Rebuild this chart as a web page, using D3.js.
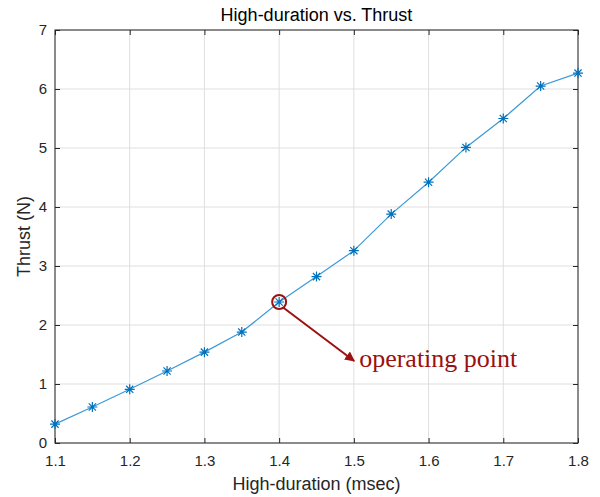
<!DOCTYPE html>
<html>
<head>
<meta charset="utf-8">
<script src="https://cdn.jsdelivr.net/npm/d3@7"></script>
<style>
  body { margin: 0; background: #fff; }
  svg { display: block; }
</style>
</head>
<body>
<div id="chart"></div>
<script>
var width = 600;
var height = 497;

// data
var duration = [1.1, 1.15, 1.2, 1.25, 1.3, 1.35, 1.4, 1.45, 1.5, 1.55, 1.6, 1.65, 1.7, 1.75, 1.8];
var thrust   = [0.32, 0.61, 0.91, 1.22, 1.54, 1.88, 2.39, 2.82, 3.26, 3.88, 4.42, 5.01, 5.50, 6.05, 6.27];
var xTicks = [1.1, 1.2, 1.3, 1.4, 1.5, 1.6, 1.7, 1.8];
var yTicks = [0, 1, 2, 3, 4, 5, 6, 7];
var opPoint = { x: 1.4, y: 2.39 };
var opLabel = "operating point";

var margin = { top: 30, right: 22, bottom: 54, left: 55 };
var w = width - margin.left - margin.right;
var h = height - margin.top - margin.bottom;

var svg = d3.select("#chart").append("svg")
  .attr("width", width)
  .attr("height", height);

var g = svg.append("g")
  .attr("transform", "translate(" + margin.left + "," + margin.top + ")");

var x = d3.scaleLinear().domain([1.1, 1.8]).range([0, w]);
var y = d3.scaleLinear().domain([0, 7]).range([h, 0]);

var axisCol = "#262626";
var font = "Arial, 'Liberation Sans', Helvetica, sans-serif";

// grid
g.append("g").selectAll("line").data(xTicks).join("line")
  .attr("x1", d => x(d)).attr("x2", d => x(d))
  .attr("y1", 0).attr("y2", h)
  .style("stroke", "#dfdfdf").style("stroke-width", 1);
g.append("g").selectAll("line").data(yTicks).join("line")
  .attr("y1", d => y(d)).attr("y2", d => y(d))
  .attr("x1", 0).attr("x2", w)
  .style("stroke", "#dfdfdf").style("stroke-width", 1);

// axes with inward ticks, box style
function styleAxis(sel) {
  sel.select(".domain").remove();
  sel.selectAll(".tick line").style("stroke", axisCol);
  sel.selectAll(".tick text").style("fill", axisCol)
    .style("font-family", font).style("font-size", "15px");
}
g.append("g").attr("transform", "translate(0," + h + ")")
  .call(d3.axisBottom(x).tickValues(xTicks).tickFormat(d3.format(".1f")).tickSizeInner(-5).tickPadding(12))
  .call(styleAxis);
g.append("g")
  .call(d3.axisTop(x).tickValues(xTicks).tickFormat("").tickSizeInner(-5))
  .call(styleAxis);
g.append("g")
  .call(d3.axisLeft(y).tickValues(yTicks).tickFormat(d3.format("d")).tickSizeInner(-5).tickPadding(8))
  .call(styleAxis);
g.append("g").attr("transform", "translate(" + w + ",0)")
  .call(d3.axisRight(y).tickValues(yTicks).tickFormat("").tickSizeInner(-5))
  .call(styleAxis);

g.append("rect")
  .attr("x", 0).attr("y", 0).attr("width", w).attr("height", h)
  .style("fill", "none").style("stroke", axisCol).style("stroke-width", 1);

// line
var pts = duration.map((d, i) => [d, thrust[i]]);
var line = d3.line().x(d => x(d[0])).y(d => y(d[1]));
g.append("path")
  .attr("d", line(pts))
  .style("fill", "none")
  .style("stroke", "#3c99d8")
  .style("stroke-width", 1.2);

// asterisk markers
var s = 5, s2 = 3.6;
var star = "M0," + (-s) + "V" + s + "M" + (-s) + ",0H" + s +
  "M" + (-s2) + "," + (-s2) + "L" + s2 + "," + s2 +
  "M" + (-s2) + "," + s2 + "L" + s2 + "," + (-s2);
g.append("g").selectAll("path").data(pts).join("path")
  .attr("transform", d => "translate(" + x(d[0]) + "," + y(d[1]) + ")")
  .attr("d", star)
  .style("fill", "none")
  .style("stroke", "#0072BD")
  .style("stroke-width", 1.2);

// annotation
var red = "#9b1010";
svg.append("defs").append("marker")
  .attr("id", "arrow")
  .attr("viewBox", "0 0 10 10")
  .attr("refX", 9).attr("refY", 5)
  .attr("markerWidth", 5).attr("markerHeight", 5)
  .attr("orient", "auto")
  .append("path").attr("d", "M0,0L10,5L0,10z").style("fill", red);

var cx = x(opPoint.x), cy = y(opPoint.y);
g.append("circle")
  .attr("cx", cx).attr("cy", cy).attr("r", 7)
  .style("fill", "none").style("stroke", red).style("stroke-width", 2);
g.append("line")
  .attr("x1", cx + 4).attr("y1", cy + 5.5)
  .attr("x2", cx + 75).attr("y2", cy + 59)
  .attr("marker-end", "url(#arrow)")
  .style("stroke", red).style("stroke-width", 2);
g.append("text")
  .attr("x", cx + 80).attr("y", cy + 65)
  .text(opLabel)
  .style("font-family", "'Liberation Serif', 'Times New Roman', serif")
  .style("font-size", "26px")
  .style("fill", red);

// titles
svg.append("text")
  .attr("x", margin.left + w / 2).attr("y", 21)
  .attr("text-anchor", "middle")
  .text("High-duration vs. Thrust")
  .style("font-family", font).style("font-size", "18px").style("fill", "#000");
svg.append("text")
  .attr("x", margin.left + w / 2).attr("y", 490)
  .attr("text-anchor", "middle")
  .text("High-duration (msec)")
  .style("font-family", font).style("font-size", "18px").style("fill", axisCol);
svg.append("text")
  .attr("transform", "translate(30," + (margin.top + h / 2) + ") rotate(-90)")
  .attr("text-anchor", "middle")
  .text("Thrust (N)")
  .style("font-family", font).style("font-size", "18px").style("fill", axisCol);
</script>
</body>
</html>
